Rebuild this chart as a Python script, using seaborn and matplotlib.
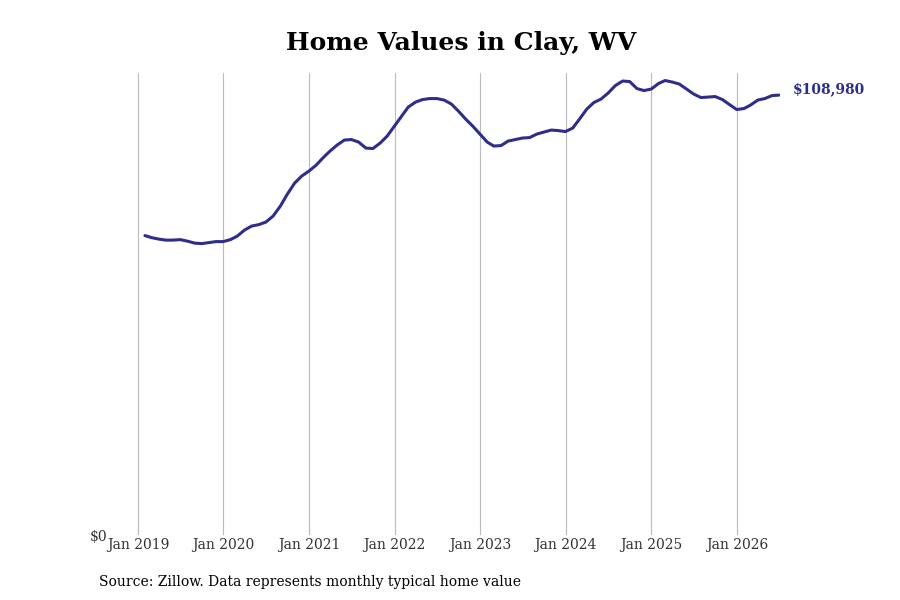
import pandas as pd
import matplotlib.pyplot as plt
import matplotlib.dates as mdates
import seaborn as sns

# Monthly typical home value, Clay WV
values = [
    74190, 73690, 73320, 73070, 73070, 73195, 72820, 72330, 72200, 72450, 72700, 72700,
    73195, 74060, 75550, 76540, 76910, 77530, 79020, 81490, 84470, 87190, 88920, 90160,
    91650, 93380, 95120, 96600, 97840, 97970, 97350, 95860, 95740, 97100, 98830, 101310,
    103790, 106020, 107250, 107870, 108120, 108120, 107750, 106760, 105020, 103040, 101310, 99330,
    97350, 96360, 96480, 97590, 97970, 98340, 98460, 99330, 99820, 100320, 100190, 99950,
    100810, 103040, 105520, 107130, 108000, 109480, 111340, 112460, 112330, 110600, 110100, 110470,
    111840, 112580, 112210, 111710, 110470, 109240, 108370, 108490, 108620, 107870, 106640, 105400,
    105650, 106510, 107750, 108120, 108860, 108980,
]
dates = pd.date_range("2019-01-31", periods=len(values), freq="ME")
tick_years = list(range(2019, 2027))

df = pd.DataFrame({"date": dates, "value": values})

line_color = "#2e2e8a"

sns.set_style("white")
plt.rcParams["font.family"] = ["DejaVu Serif"]

fig = plt.figure(figsize=(9, 6), dpi=100)
ax = fig.add_axes([0.122, 0.108, 0.745, 0.77])

sns.lineplot(data=df, x="date", y="value", ax=ax, color=line_color, linewidth=2.2)

ax.set_xlim(pd.Timestamp("2018-09-03"), pd.Timestamp("2026-07-05"))
ax.set_ylim(0, 114400)

ax.set_xticks([pd.Timestamp(f"{y}-01-01") for y in tick_years])
ax.xaxis.set_major_formatter(mdates.DateFormatter("Jan %Y"))
ax.set_yticks([0])
ax.set_yticklabels(["$0"])
ax.tick_params(axis="both", length=0, labelsize=10, colors="#333333", pad=2)
ax.tick_params(axis="y", pad=2)

ax.grid(axis="x", color="#bbbbbb", linewidth=0.8)
ax.grid(axis="y", visible=False)
for s in ax.spines.values():
    s.set_visible(False)
ax.set_xlabel("")
ax.set_ylabel("")

# end label
ax.annotate(f"${values[-1]:,}", xy=(dates[-1], values[-1]), xytext=(10, 4),
            textcoords="offset points", va="center", ha="left",
            fontsize=10, fontweight="bold", color=line_color)

fig.text(0.512, 0.928, "Home Values in Clay, WV", ha="center", va="center",
         fontsize=18, fontweight="bold", color="black")
fig.text(0.11, 0.03, "Source: Zillow. Data represents monthly typical home value",
         ha="left", va="center", fontsize=10, color="black")

fig.savefig("out.png", dpi=100)
